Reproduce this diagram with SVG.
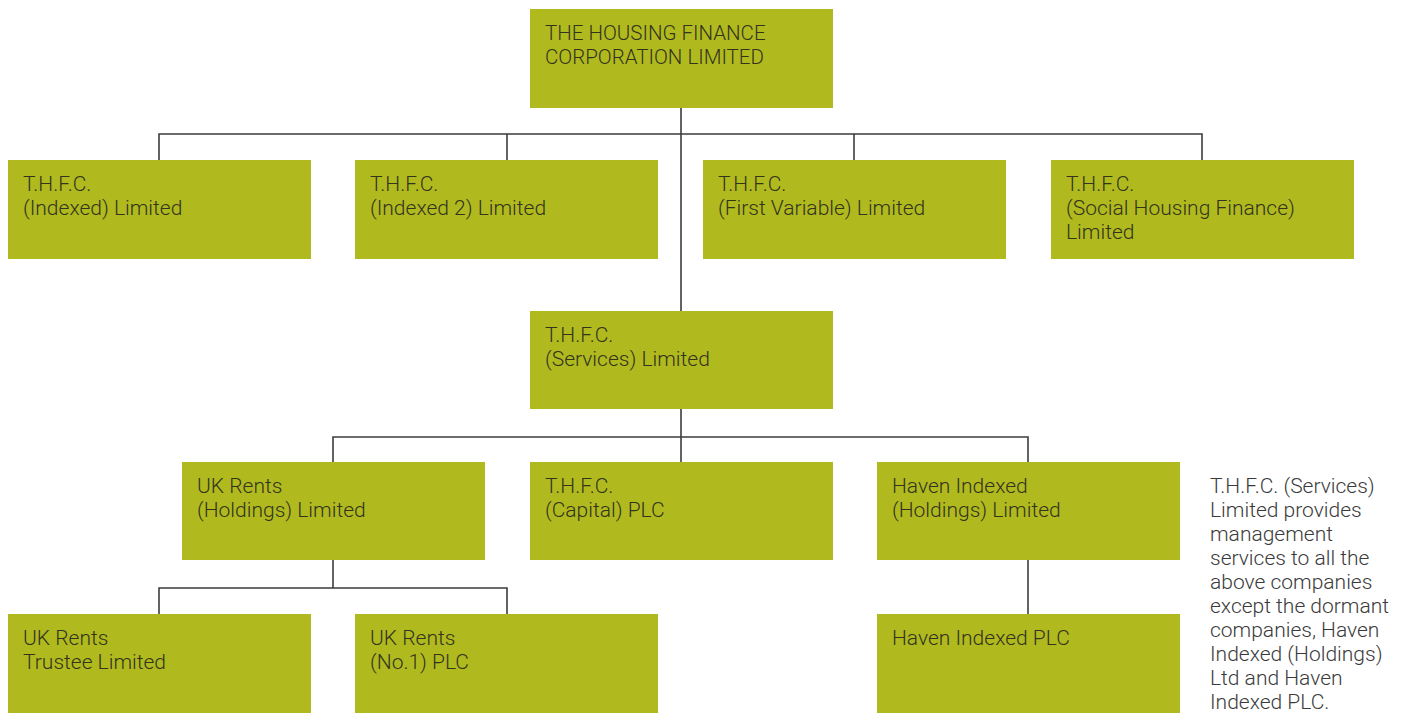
<svg xmlns="http://www.w3.org/2000/svg" width="1413" height="713" viewBox="0 0 1413 713">
  <style>
    .box { fill: #b0ba1e; }
    .lbl { font-family: Roboto, "Liberation Sans", sans-serif; font-weight: 300; font-size: 21px; fill: #33331f; }
    .caps { font-size: 20.5px; }
    .note { font-family: Roboto, "Liberation Sans", sans-serif; font-weight: 300; font-size: 21px; fill: #3a3a3a; }
    .wire { fill: none; stroke: #3c3c3c; stroke-width: 1.6; }
  </style>
  <rect width="1413" height="713" fill="#ffffff"/>

  <!-- connectors -->
  <g id="connectors" class="wire">
    <path d="M681 108 V311"/>
    <path d="M159 160 V134 H1202 V160"/>
    <path d="M507 134 V160"/>
    <path d="M854 134 V160"/>
    <path d="M681 409 V462"/>
    <path d="M333 462 V437 H1028 V462"/>
    <path d="M333 560 V588"/>
    <path d="M159 614 V588 H507 V614"/>
    <path d="M1028 560 V614"/>
  </g>

  <g id="thfc">
    <rect class="box" x="530" y="9" width="303" height="99"/>
    <text class="lbl caps" x="545" y="40">THE HOUSING FINANCE</text>
    <text class="lbl caps" x="545" y="64">CORPORATION LIMITED</text>
  </g>

  <g id="indexed">
    <rect class="box" x="8" y="160" width="303" height="99"/>
    <text class="lbl" x="23" y="191">T.H.F.C.</text>
    <text class="lbl" x="23" y="215">(Indexed) Limited</text>
  </g>

  <g id="indexed2">
    <rect class="box" x="355" y="160" width="303" height="99"/>
    <text class="lbl" x="370" y="191">T.H.F.C.</text>
    <text class="lbl" x="370" y="215">(Indexed 2) Limited</text>
  </g>

  <g id="first-variable">
    <rect class="box" x="703" y="160" width="303" height="99"/>
    <text class="lbl" x="718" y="191">T.H.F.C.</text>
    <text class="lbl" x="718" y="215">(First Variable) Limited</text>
  </g>

  <g id="social-housing-finance">
    <rect class="box" x="1051" y="160" width="303" height="99"/>
    <text class="lbl" x="1066" y="191">T.H.F.C.</text>
    <text class="lbl" x="1066" y="215">(Social Housing Finance)</text>
    <text class="lbl" x="1066" y="239">Limited</text>
  </g>

  <g id="services">
    <rect class="box" x="530" y="311" width="303" height="98"/>
    <text class="lbl" x="545" y="342">T.H.F.C.</text>
    <text class="lbl" x="545" y="366">(Services) Limited</text>
  </g>

  <g id="uk-rents-holdings">
    <rect class="box" x="182" y="462" width="303" height="98"/>
    <text class="lbl" x="197" y="493">UK Rents</text>
    <text class="lbl" x="197" y="517">(Holdings) Limited</text>
  </g>

  <g id="capital">
    <rect class="box" x="530" y="462" width="303" height="98"/>
    <text class="lbl" x="545" y="493">T.H.F.C.</text>
    <text class="lbl" x="545" y="517">(Capital) PLC</text>
  </g>

  <g id="haven-holdings">
    <rect class="box" x="877" y="462" width="303" height="98"/>
    <text class="lbl" x="892" y="493">Haven Indexed</text>
    <text class="lbl" x="892" y="517">(Holdings) Limited</text>
  </g>

  <g id="uk-rents-trustee">
    <rect class="box" x="8" y="614" width="303" height="99"/>
    <text class="lbl" x="23" y="645">UK Rents</text>
    <text class="lbl" x="23" y="669">Trustee Limited</text>
  </g>

  <g id="uk-rents-no1">
    <rect class="box" x="355" y="614" width="303" height="99"/>
    <text class="lbl" x="370" y="645">UK Rents</text>
    <text class="lbl" x="370" y="669">(No.1) PLC</text>
  </g>

  <g id="haven-plc">
    <rect class="box" x="877" y="614" width="303" height="99"/>
    <text class="lbl" x="892" y="645">Haven Indexed PLC</text>
  </g>

  <g id="services-note">
    <text class="note" x="1210" y="493">T.H.F.C. (Services)</text>
    <text class="note" x="1210" y="517">Limited provides</text>
    <text class="note" x="1210" y="541">management</text>
    <text class="note" x="1210" y="565">services to all the</text>
    <text class="note" x="1210" y="589">above companies</text>
    <text class="note" x="1210" y="613">except the dormant</text>
    <text class="note" x="1210" y="637">companies, Haven</text>
    <text class="note" x="1210" y="661">Indexed (Holdings)</text>
    <text class="note" x="1210" y="685">Ltd and Haven</text>
    <text class="note" x="1210" y="709">Indexed PLC.</text>
  </g>
</svg>
